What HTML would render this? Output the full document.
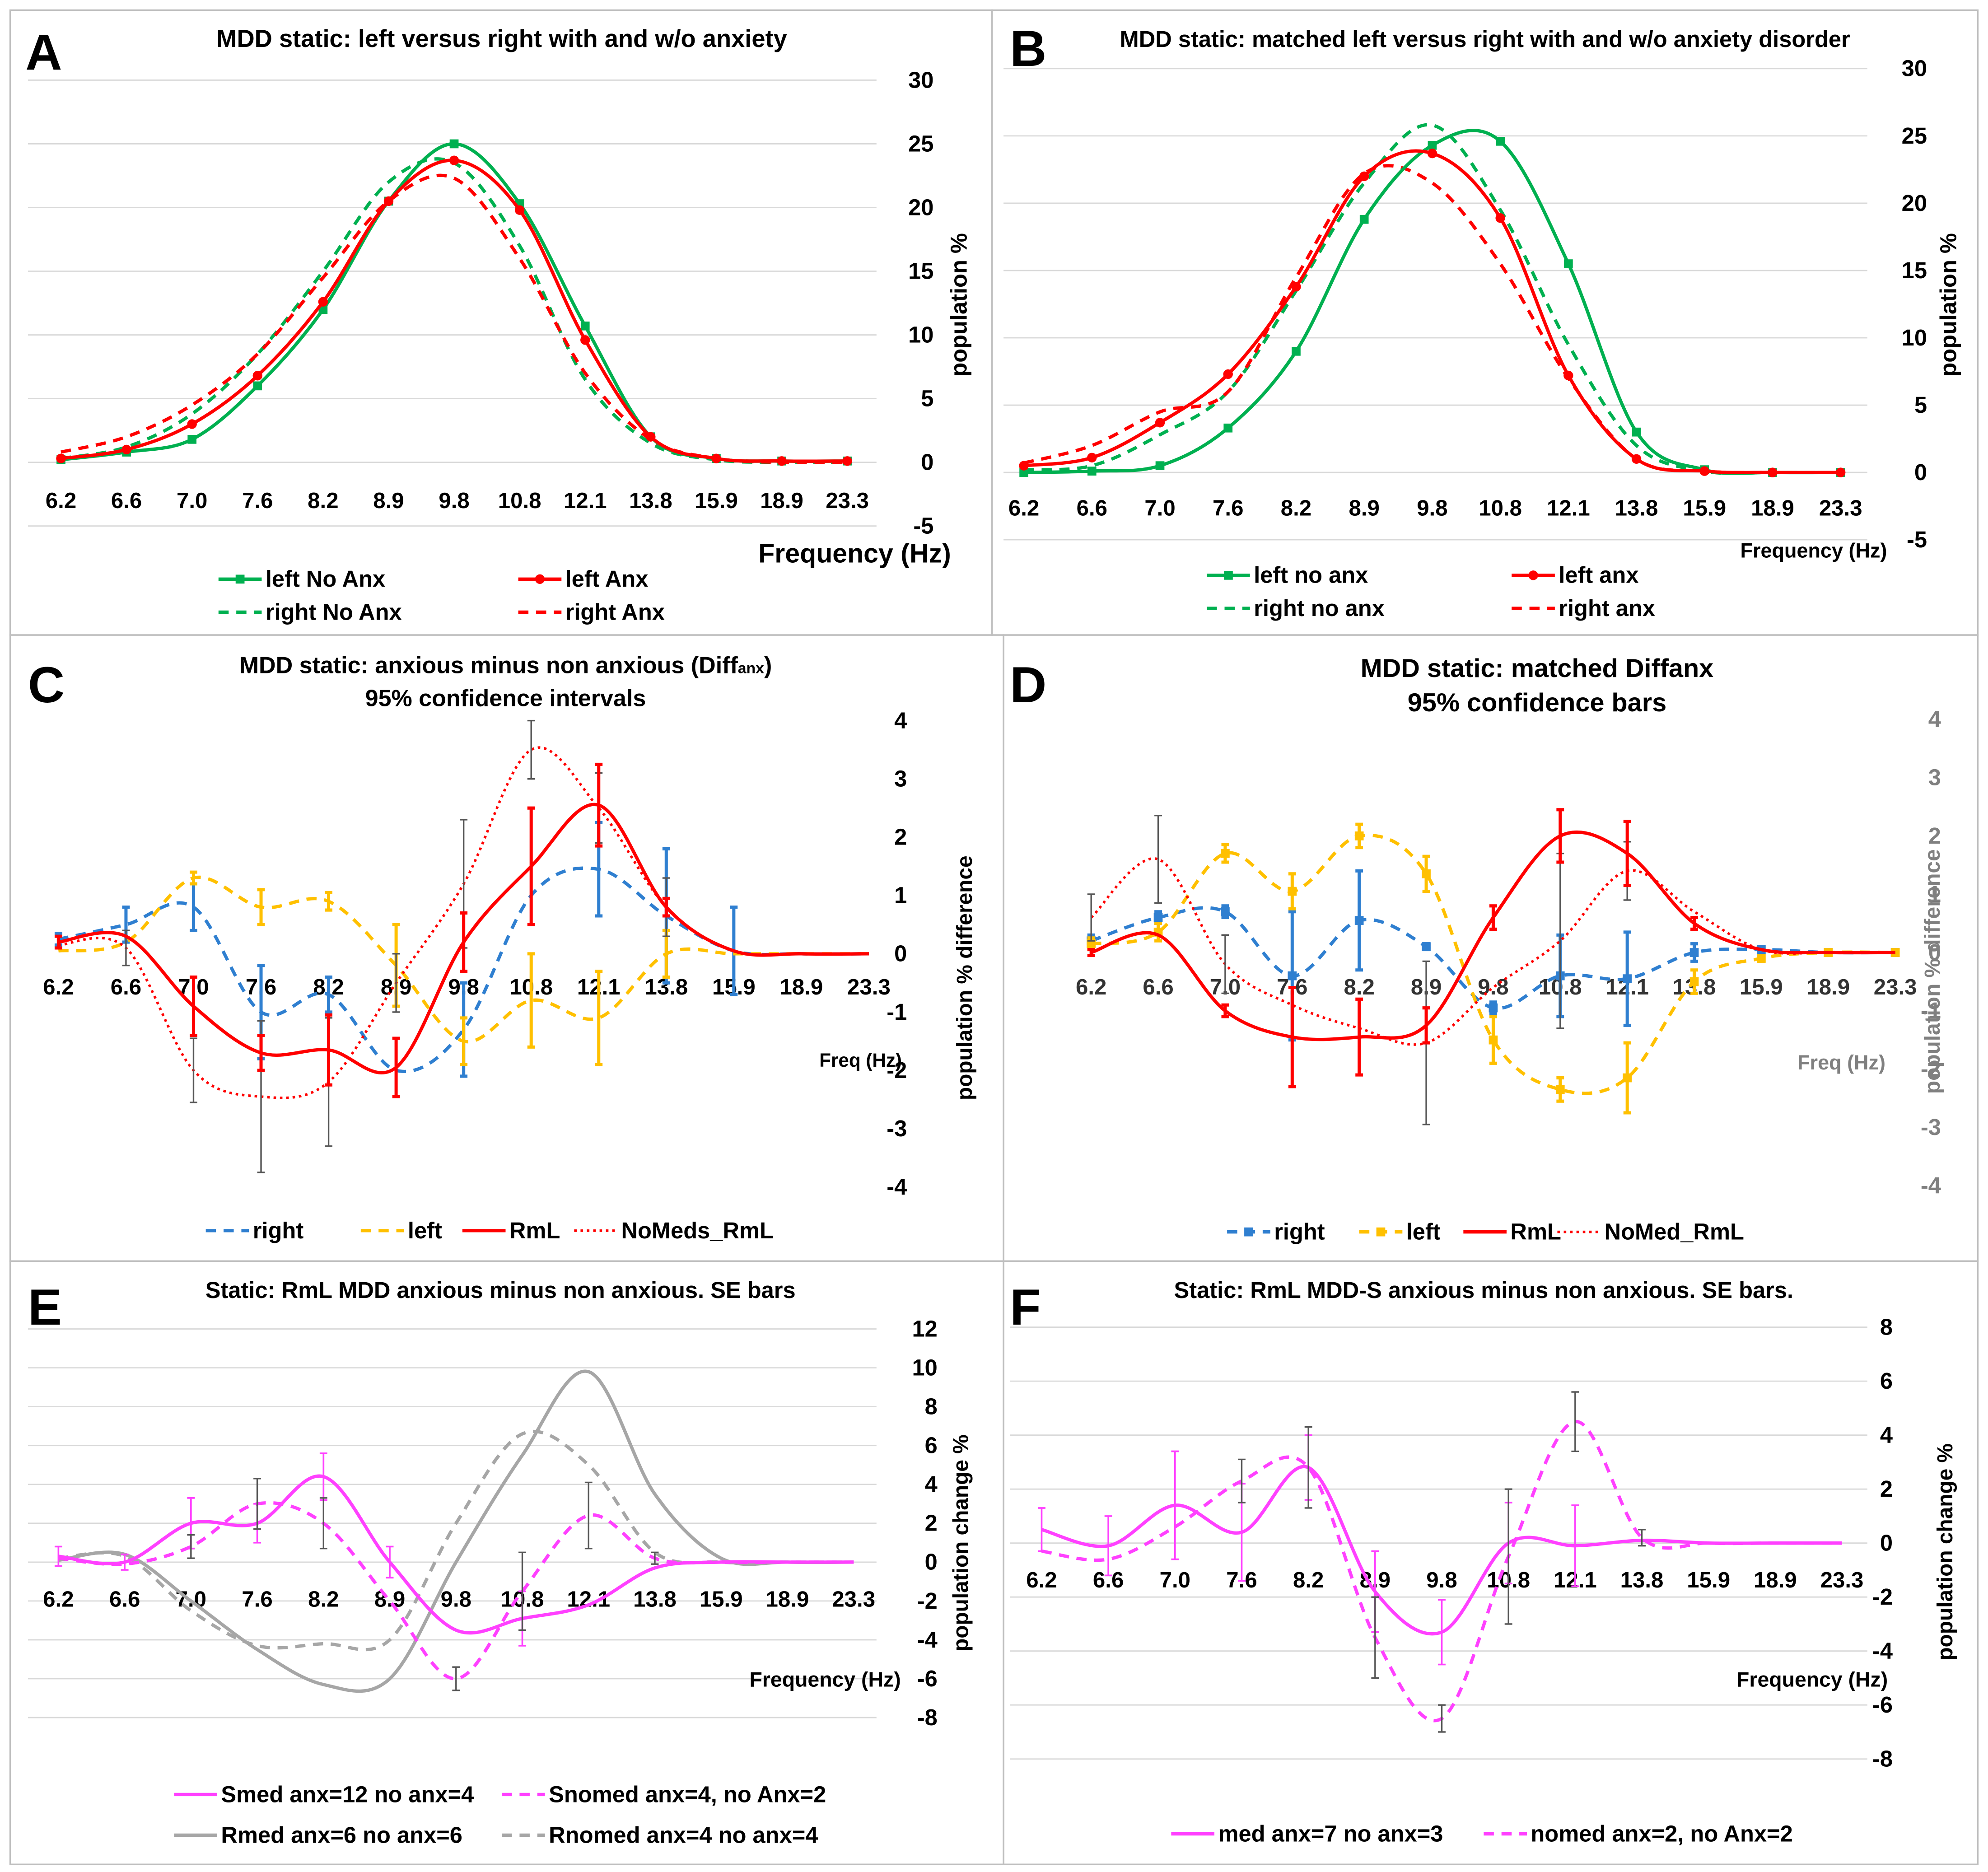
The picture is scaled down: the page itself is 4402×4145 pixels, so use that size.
<!DOCTYPE html>
<html><head><meta charset="utf-8">
<style>html,body{margin:0;padding:0;background:#fff}svg{display:block}text{font-family:"Liberation Sans",sans-serif;font-weight:bold}</style>
</head><body>
<svg id="fig" xmlns="http://www.w3.org/2000/svg" width="4402" height="4145" viewBox="0 0 1565 1474" preserveAspectRatio="none">
<rect x="0" y="0" width="1565" height="1474" fill="#fff"/>
<g fill="none" stroke="#bfbfbf" stroke-width="1.2">
<rect x="8" y="8" width="773" height="492"/>
<rect x="781" y="8" width="776" height="492"/>
<rect x="8" y="500" width="782" height="493"/>
<rect x="790" y="500" width="767" height="493"/>
<rect x="8" y="993" width="782" height="475"/>
<rect x="790" y="993" width="767" height="475"/>
</g>
<g font-size="40">
<text x="20" y="55">A</text>
<text x="795" y="52">B</text>
<text x="22" y="553">C</text>
<text x="795" y="553">D</text>
<text x="22" y="1043">E</text>
<text x="795" y="1043">F</text>
</g>
<g font-size="18" text-anchor="middle">
<text x="395" y="37" font-size="19.3">MDD static: left versus right with and w/o anxiety</text>
<text x="1169" y="37">MDD static: matched left versus right with and w/o anxiety disorder</text>
<text x="398" y="530" font-size="18.5">MDD static: anxious minus non anxious (Diff<tspan font-size="12">anx</tspan>)</text>
<text x="398" y="556" font-size="18.5">95% confidence intervals</text>
<text x="1210" y="533" font-size="20.5">MDD static: matched Diffanx</text>
<text x="1210" y="560" font-size="20.5">95% confidence bars</text>
<text x="394" y="1022">Static: RmL MDD anxious minus non anxious. SE bars</text>
<text x="1168" y="1022">Static: RmL MDD-S anxious minus non anxious. SE bars.</text>
</g>
<g id="plots"></g>
<g font-size="18">
<text x="597" y="443" font-size="21">Frequency (Hz)</text>
<text x="1370" y="439" font-size="16">Frequency (Hz)</text>
<text x="645" y="840" font-size="15">Freq (Hz)</text>
<text x="1415" y="842" font-size="16" fill="#808080">Freq (Hz)</text>
<text x="590" y="1328" font-size="16.5">Frequency (Hz)</text>
<text x="1367" y="1328" font-size="16.5">Frequency (Hz)</text>
<text transform="translate(761,240) rotate(-90)" text-anchor="middle">population %</text>
<text transform="translate(1540,240) rotate(-90)" text-anchor="middle">population %</text>
<text transform="translate(765,770) rotate(-90)" text-anchor="middle" font-size="17">population % difference</text>
<text transform="translate(1527,765) rotate(-90)" text-anchor="middle" font-size="17" fill="#808080">population % difference</text>
<text transform="translate(762,1215) rotate(-90)" text-anchor="middle" font-size="17">population change %</text>
<text transform="translate(1537,1222) rotate(-90)" text-anchor="middle" font-size="17">population change %</text>
</g>
<g id="legends" font-size="18"></g>
</svg>
<script>
const categories=['6.2','6.6','7.0','7.6','8.2','8.9','9.8','10.8','12.1','13.8','15.9','18.9','23.3'];
// Panel A
const aLeftNoAnx=[0.2,0.8,1.8,6,12,20.5,25,20.3,10.7,2,0.3,0.1,0.1];
const aLeftAnx=[0.3,1,3,6.8,12.6,20.5,23.7,19.8,9.6,2,0.3,0.1,0.1];
const aRightNoAnx=[0.3,1.2,3.8,8.5,15,22,23.5,17,6.5,1.5,0.2,0,0];
const aRightAnx=[0.8,2,4.5,8.5,14.5,20.5,22.3,16,7,1.8,0.3,0,0];
const aTicks=[30,25,20,15,10,5,0,-5];
// Panel B
const bLeftNoAnx=[0,0.1,0.5,3.3,9,18.8,24.3,24.6,15.5,3,0.2,0,0];
const bLeftAnx=[0.5,1.1,3.7,7.3,13.8,22,23.7,18.9,7.2,1,0.1,0,0];
const bRightNoAnx=[0.2,0.5,2.8,6,13.5,21.5,25.8,19.5,9.5,2,0.1,0,0];
const bRightAnx=[0.7,2,4.5,6,14.5,22.2,21.5,15.5,7,1,0.1,0,0];
const bTicks=[30,25,20,15,10,5,0,-5];
// Panel C
const cRight=[0.25,0.5,0.8,-1,-0.7,-2,-1.3,1,1.45,0.65,0.05,0,0];
const cRightErr=[0.1,0.3,0.4,0.8,0.3,0,0.8,0,0.8,1.15,0.75,0,0];
const cLeft=[0.05,0.2,1.3,0.8,0.9,-0.2,-1.5,-0.8,-1.1,0,0,0,0];
const cLeftErr=[0,0,0.1,0.3,0.15,0.7,0.4,0.8,0.8,0.4,0,0,0];
const cRmL=[0.2,0.3,-0.9,-1.7,-1.65,-1.95,0.2,1.5,2.55,0.8,0.05,0,0];
const cRmLErr=[0.1,0,0.5,0.3,0.6,0.5,0.5,1,0.7,0.15,0,0,0];
const cNoMeds=[0.15,0.1,-2,-2.45,-2.2,-0.5,1.2,3.5,2.5,0.8,0.05,0,0];
const cNoMedsErr=[0,0.3,0.55,1.3,1.1,0.5,1.1,0.5,0.6,0.5,0,0,0];
const cTicks=[4,3,2,1,0,-1,-2,-3,-4];
// Panel D
const dRight=[0.2,0.6,0.7,-0.4,0.55,0.1,-0.95,-0.4,-0.45,0,0.05,0,0];
const dRightErr=[0.1,0.1,0.1,1.1,0.85,0.05,0.1,0.7,0.8,0.15,0,0,0];
const dLeft=[0.15,0.35,1.7,1.05,2,1.35,-1.5,-2.35,-2.15,-0.5,-0.1,0,0];
const dLeftErr=[0.1,0.15,0.15,0.3,0.2,0.3,0.4,0.2,0.6,0.2,0.05,0,0];
const dRmL=[0,0.3,-1,-1.45,-1.45,-1.25,0.6,2,1.7,0.5,0.05,0,0];
const dRmLErr=[0.05,0,0.1,0.85,0.65,0.3,0.2,0.45,0.55,0.1,0,0,0];
const dNoMed=[0.6,1.6,-0.2,-0.9,-1.3,-1.55,-0.6,0.2,1.4,0.7,0.05,0,0];
const dNoMedErr=[0.4,0.75,0.5,0,0,1.4,0,1.5,0.5,0,0,0,0];
const dTicks=[4,3,2,1,0,-1,-2,-3,-4];
// Panel E
const eSmed=[0.3,0,2,2,4.4,0,-3.5,-2.9,-2.2,-0.3,0,0,0];
const eSmedErr=[0.5,0.4,1.3,1,1.2,0.8,0,1.4,0,0,0,0,0];
const eSnomed=[0.2,-0.1,0.8,3,2,-2,-6,-1.5,2.4,0.2,0,0,0];
const eSnomedErr=[0,0,0.6,1.3,1.3,0,0.6,2,1.7,0.3,0,0,0];
const eRmed=[0.1,0.4,-2,-4.5,-6.3,-6,0,5.5,9.8,3.5,0.2,0,0];
const eRnomed=[0.2,0.3,-2.5,-4.3,-4.2,-4,2,6.6,5,0.5,0,0,0];
const eTicks=[12,10,8,6,4,2,0,-2,-4,-6,-8];
// Panel F
const fMed=[0.5,-0.1,1.4,0.4,2.8,-1.8,-3.3,0,-0.1,0.1,0,0,0];
const fMedErr=[0.8,1.1,2,1.8,1.2,1.5,1.2,1.5,1.5,0,0,0,0];
const fNomed=[-0.3,-0.6,0.6,2.3,2.8,-3.5,-6.5,-0.5,4.5,0.2,0,0,0];
const fNomedErr=[0,0,0,0.8,1.5,1.5,0.5,2.5,1.1,0.3,0,0,0];
const fTicks=[8,6,4,2,0,-2,-4,-6,-8];

const NS='http://www.w3.org/2000/svg';
const root=document.getElementById('plots');
function mk(tag,attrs,parent){const e=document.createElementNS(NS,tag);for(const k in attrs)e.setAttribute(k,attrs[k]);(parent||root).appendChild(e);return e;}
function spline(pts){let d='M'+pts[0][0]+','+pts[0][1];for(let i=0;i<pts.length-1;i++){const p0=pts[Math.max(0,i-1)],p1=pts[i],p2=pts[i+1],p3=pts[Math.min(pts.length-1,i+2)];const t=6;d+=' C'+(p1[0]+(p2[0]-p0[0])/t)+','+(p1[1]+(p2[1]-p0[1])/t)+' '+(p2[0]-(p3[0]-p1[0])/t)+','+(p2[1]-(p3[1]-p1[1])/t)+' '+p2[0]+','+p2[1];}return d;}
function panel(p){
  const g=mk('g',{});
  
  
  const X=i=>p.x0+i*(p.x1-p.x0)/12, Y=v=>p.yz-v*p.k;
  p.ticks.forEach(t=>{
    if(p.grid){const l=mk('line',{x1:p.gx0,x2:p.gx1,y1:Y(t),y2:Y(t),stroke:'#d9d9d9','stroke-width':1},g);
      
      }
    const tx=mk('text',{x:p.tx,y:Y(t)+6,'text-anchor':'end','font-size':p.tfs||18,fill:p.tcol||'#000'},g);
    
    
    tx.textContent=t;
  });
  categories.forEach((c,i)=>{
    const tx=mk('text',{x:X(i),y:p.ly,'text-anchor':'middle','font-size':p.lfs||17.5,fill:p.lcol||'#000'},g);
    
    
    tx.textContent=c;
  });
  p.series.forEach(s=>{
    const pts=s.vals.map((v,i)=>[X(i),Y(v)]);
    const path=mk('path',{d:spline(pts),fill:'none',stroke:s.color,'stroke-width':s.w||2.6,'stroke-dasharray':s.dash||'none'},g);
    
    
    if(s.err){s.err.forEach((e,i)=>{if(!e)return;const x=X(i),a=Y(s.vals[i]+e),b=Y(s.vals[i]-e);
      const eb=mk('path',{d:`M${x},${a}V${b}M${x-3},${a}H${x+3}M${x-3},${b}H${x+3}`,stroke:s.ecol||s.color,'stroke-width':s.ew||1.8,fill:'none'},g);
      
      });}
    if(s.marker){pts.forEach(q=>{let m;
      if(s.marker==='sq')m=mk('rect',{x:q[0]-3.5,y:q[1]-3.5,width:7,height:7,fill:s.color},g);
      else m=mk('circle',{cx:q[0],cy:q[1],r:3.8,fill:s.color},g);
      
      });}
  });
}
const G='#00b050',R='#ff0000',BL='#2f7fd0',Y='#ffc000',M='#ff40ff',GR='#a6a6a6',DG='#555';
panel({name:'panel-a-chart',x0:48,x1:667,yz:364,k:10.03,ticks:aTicks,grid:true,gx0:22,gx1:690,tx:735,ly:400,
  series:[{name:'right-no-anx',vals:aRightNoAnx,color:G,dash:'8,6'},{name:'right-anx',vals:aRightAnx,color:R,dash:'8,6'},
  {name:'left-no-anx',vals:aLeftNoAnx,color:G,marker:'sq'},{name:'left-anx',vals:aLeftAnx,color:R,marker:'c'}]});
panel({name:'panel-b-chart',x0:806,x1:1449,yz:372,k:10.6,ticks:bTicks,grid:true,gx0:790,gx1:1470,tx:1517,ly:406,
  series:[{name:'right-no-anx',vals:bRightNoAnx,color:G,dash:'8,6'},{name:'right-anx',vals:bRightAnx,color:R,dash:'8,6'},
  {name:'left-no-anx',vals:bLeftNoAnx,color:G,marker:'sq'},{name:'left-anx',vals:bLeftAnx,color:R,marker:'c'}]});
panel({name:'panel-c-chart',x0:46,x1:684,yz:751,k:45.9,ticks:cTicks,tx:714,ly:783,
  series:[{name:'right',vals:cRight,color:BL,dash:'8,6',err:cRightErr,ew:2.5},{name:'left',vals:cLeft,color:Y,dash:'8,6',err:cLeftErr,ew:2.5},
  {name:'nomeds-rml',vals:cNoMeds,color:R,dash:'2,3',w:2,err:cNoMedsErr,ecol:DG,ew:1.2},{name:'rml',vals:cRmL,color:R,err:cRmLErr,ew:2.5}]});
panel({name:'panel-d-chart',x0:859,x1:1492,yz:750,k:45.9,ticks:dTicks,tx:1528,tcol:'#808080',ly:783,lcol:'#333',
  series:[{name:'right',vals:dRight,color:BL,dash:'8,6',err:dRightErr,ew:2.5,marker:'sq'},{name:'left',vals:dLeft,color:Y,dash:'8,6',err:dLeftErr,ew:2.5,marker:'sq'},
  {name:'nomed-rml',vals:dNoMed,color:R,dash:'2,3',w:2,err:dNoMedErr,ecol:DG,ew:1.2},{name:'rml',vals:dRmL,color:R,err:dRmLErr,ew:2.5}]});
panel({name:'panel-e-chart',x0:46,x1:672,yz:1230,k:15.3,ticks:eTicks,grid:true,gx0:22,gx1:690,tx:738,ly:1265,
  series:[{name:'rmed',vals:eRmed,color:GR},{name:'rnomed',vals:eRnomed,color:GR,dash:'8,6'},
  {name:'smed',vals:eSmed,color:M,err:eSmedErr,ew:1.3},{name:'snomed',vals:eSnomed,color:M,dash:'8,6',err:eSnomedErr,ecol:DG,ew:1.2}]});
panel({name:'panel-f-chart',x0:820,x1:1450,yz:1215,k:21.25,ticks:fTicks,grid:true,gx0:795,gx1:1470,tx:1490,ly:1250,
  series:[{name:'med',vals:fMed,color:M,err:fMedErr,ew:1.3},{name:'nomed',vals:fNomed,color:M,dash:'8,6',err:fNomedErr,ecol:DG,ew:1.2}]});

const lg=document.getElementById('legends');
function leg(x,y,color,dash,marker,label,name,w){
  const g=mk('g',{},lg);
  
  
  mk('line',{x1:x,x2:x+34,y1:y,y2:y,stroke:color,'stroke-width':w||2.6,'stroke-dasharray':dash||'none'},g);
  if(marker==='sq')mk('rect',{x:x+13.5,y:y-3.5,width:7,height:7,fill:color},g);
  if(marker==='c')mk('circle',{cx:x+17,cy:y,r:3.8,fill:color},g);
  const t=mk('text',{x:x+37,y:y+6},g);t.textContent=label;
}
leg(172,456,G,null,'sq','left No Anx','legend-left-no-anx');
leg(408,456,R,null,'c','left Anx','legend-left-anx');
leg(172,482,G,'8,6',null,'right No Anx','legend-right-no-anx');
leg(408,482,R,'8,6',null,'right Anx','legend-right-anx');
leg(950,453,G,null,'sq','left no anx','legend-b-left-no-anx');
leg(1190,453,R,null,'c','left anx','legend-b-left-anx');
leg(950,479,G,'8,6',null,'right no anx','legend-b-right-no-anx');
leg(1190,479,R,'8,6',null,'right anx','legend-b-right-anx');
leg(162,969,BL,'8,6',null,'right','legend-c-right');
leg(284,969,Y,'8,6',null,'left','legend-c-left');
leg(364,969,R,null,null,'RmL','legend-c-rml');
leg(452,969,R,'2,3',null,'NoMeds_RmL','legend-c-nomeds',2);
leg(966,970,BL,'8,6','sq','right','legend-d-right');
leg(1070,970,Y,'8,6','sq','left','legend-d-left');
leg(1152,970,R,null,null,'RmL','legend-d-rml');
leg(1226,970,R,'2,3',null,'NoMed_RmL','legend-d-nomed',2);
leg(137,1413,M,null,null,'Smed anx=12 no anx=4','legend-e-smed');
leg(395,1413,M,'8,6',null,'Snomed anx=4, no Anx=2','legend-e-snomed');
leg(137,1445,GR,null,null,'Rmed anx=6 no anx=6','legend-e-rmed');
leg(395,1445,GR,'8,6',null,'Rnomed anx=4 no anx=4','legend-e-rnomed');
leg(922,1444,M,null,null,'med anx=7 no anx=3','legend-f-med');
leg(1168,1444,M,'8,6',null,'nomed anx=2, no Anx=2','legend-f-nomed');
</script>
</body></html>
